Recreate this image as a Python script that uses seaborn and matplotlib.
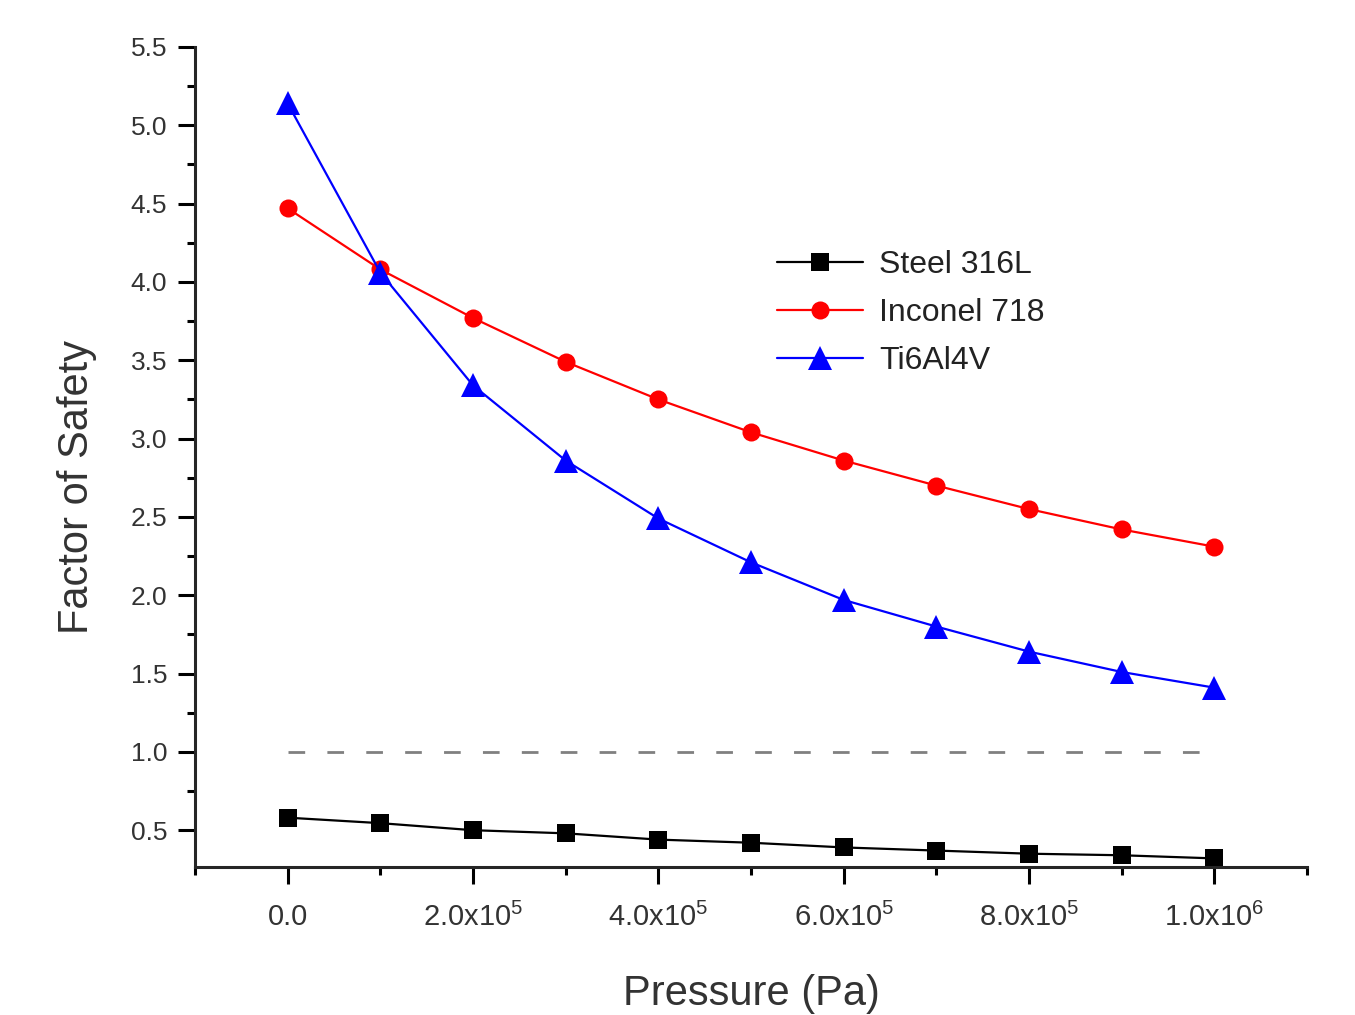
import numpy as np
import pandas as pd
import matplotlib
matplotlib.use("Agg")
import matplotlib.pyplot as plt
import seaborn as sns
from matplotlib.ticker import MultipleLocator, FixedLocator

pressure = [0, 1e5, 2e5, 3e5, 4e5, 5e5, 6e5, 7e5, 8e5, 9e5, 1e6]
steel = [0.58, 0.545, 0.50, 0.48, 0.44, 0.42, 0.39, 0.37, 0.35, 0.34, 0.32]
inconel = [4.47, 4.08, 3.77, 3.49, 3.25, 3.04, 2.86, 2.70, 2.55, 2.42, 2.31]
ti = [5.14, 4.06, 3.34, 2.86, 2.49, 2.21, 1.97, 1.80, 1.64, 1.51, 1.41]
series_names = ["Steel 316L", "Inconel 718", "Ti6Al4V"]
x_tick_vals = [0, 2e5, 4e5, 6e5, 8e5, 1e6]
x_tick_labels = ["0.0", r"2.0x10$^{5}$", r"4.0x10$^{5}$", r"6.0x10$^{5}$", r"8.0x10$^{5}$", r"1.0x10$^{6}$"]
safety_line = 1.0

sns.set_style("ticks")
plt.rcParams['font.family'] = ['Liberation Sans', 'DejaVu Sans']
plt.rcParams['mathtext.fontset'] = 'custom'
plt.rcParams['mathtext.rm'] = 'Liberation Sans'
plt.rcParams['mathtext.it'] = 'Liberation Sans'

fig = plt.figure(figsize=(13.55, 10.15), dpi=100)
ax = fig.add_axes([0.1439, 0.1458, 0.8207, 0.8079])

df = pd.DataFrame({
    "Pressure": pressure * 3,
    "FoS": steel + inconel + ti,
    "Material": [series_names[0]] * len(pressure) + [series_names[1]] * len(pressure) + [series_names[2]] * len(pressure),
})

colors = {"Steel 316L": "black", "Inconel 718": "#ff0000", "Ti6Al4V": "#0000ff"}
markers = {"Steel 316L": "s", "Inconel 718": "o", "Ti6Al4V": "^"}
msizes = {"Steel 316L": 13, "Inconel 718": 13, "Ti6Al4V": 17}

for name in series_names:
    sub = df[df["Material"] == name]
    sns.lineplot(data=sub, x="Pressure", y="FoS", ax=ax, color=colors[name],
                 marker=markers[name], markersize=msizes[name], markeredgewidth=0,
                 linewidth=1.6, label=name)

ax.plot([pressure[0], pressure[-1]], [safety_line, safety_line], color="#808080",
        linewidth=2, linestyle=(0, (6, 8)))

ax.set_xlim(-1e5, 1.1e6)
ax.set_ylim(0.265, 5.5)
ax.xaxis.set_major_locator(FixedLocator(x_tick_vals))
ax.set_xticklabels(x_tick_labels)
ax.xaxis.set_minor_locator(FixedLocator([-1e5, 1e5, 3e5, 5e5, 7e5, 9e5, 1.1e6]))
ax.yaxis.set_major_locator(MultipleLocator(0.5))
ax.yaxis.set_minor_locator(MultipleLocator(0.25))
ax.yaxis.set_major_formatter(matplotlib.ticker.FormatStrFormatter("%.1f"))

for s in ["top", "right"]:
    ax.spines[s].set_visible(False)
for s in ["left", "bottom"]:
    ax.spines[s].set_linewidth(2.2)

ax.tick_params(axis="both", which="major", direction="out", length=12, width=2.2, colors="black")
ax.tick_params(axis="both", which="minor", direction="out", length=6, width=2.2, colors="black")
ax.tick_params(axis="y", which="major", labelsize=19, pad=8, labelcolor="#333333")
ax.tick_params(axis="x", which="major", labelsize=21, pad=14, labelcolor="#333333")

ax.set_xlabel("Pressure (Pa)", fontsize=30, color="#333333", labelpad=30)
ax.set_ylabel("Factor of Safety", fontsize=30, color="#333333", labelpad=22)
ax.yaxis.set_label_coords(-0.088, 0.463)

leg = ax.legend(loc="upper left", bbox_to_anchor=(0.509, 0.772), frameon=False,
                fontsize=23, handlelength=2.7, handletextpad=0.5, labelspacing=0.56,
                borderpad=0)
for t in leg.get_texts():
    t.set_color("#222222")

fig.savefig("out.png", dpi=100)
